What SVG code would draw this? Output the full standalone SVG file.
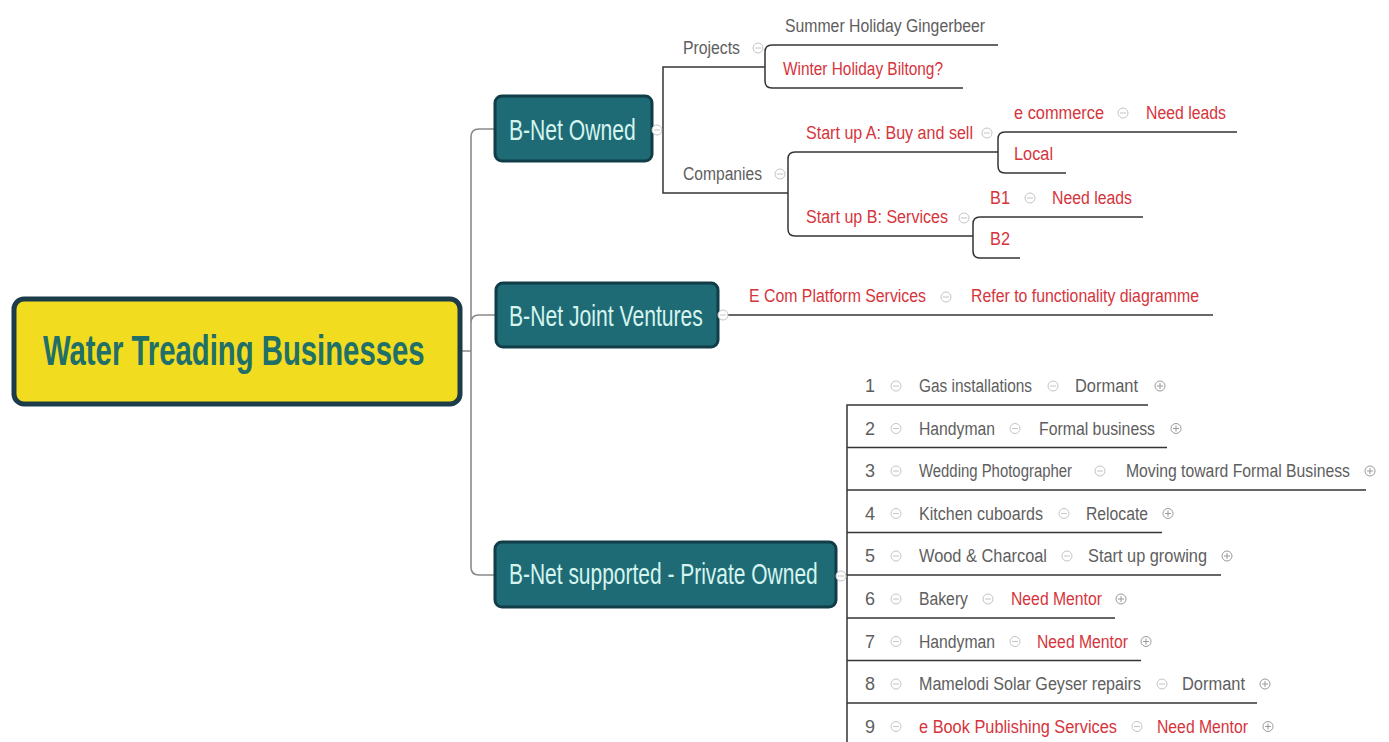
<svg xmlns="http://www.w3.org/2000/svg" xmlns:xlink="http://www.w3.org/1999/xlink" width="1389" height="742" viewBox="0 0 1389 742">
<style>
text{font-family:"Liberation Sans",Arial,sans-serif}
.t{font-size:18px;fill:#5e5e5e}
.r{fill:#d6343c}
.bn{fill:#1e6b76;stroke:#113d48;stroke-width:3}
.bt{font-size:30px;fill:#d6f4ee}
.main{fill:none;stroke:#8a8a8a;stroke-width:1.6}
.sub{fill:none;stroke:#353535;stroke-width:1.5}
.ic circle{fill:#fff;stroke:#c4c4c4;stroke-width:1}
.ic line{stroke:#c4c4c4;stroke-width:1}
.pc circle{fill:#fff;stroke:#9a9a9a;stroke-width:1}
.pc line{stroke:#9a9a9a;stroke-width:1}
</style>
<defs>
<g id="mi" class="ic"><circle r="5"/><line x1="-3" y1="0" x2="3" y2="0"/></g>
<g id="pl" class="pc"><circle r="5"/><line x1="-3" y1="0" x2="3" y2="0"/><line x1="0" y1="-3" x2="0" y2="3"/></g>
</defs>
<rect width="1389" height="742" fill="#fff"/>

<g id="connectors">
<path class="main" d="M461,351 H471 M495,129 H479 Q471,129 471,137 V567 Q471,575 479,575 H495 M471,323 Q471,315 479,315 H496"/>
<path class="sub" d="M652,130 H663 M765,67 H663 V193 H788"/>
<path class="sub" d="M998,45 H772 Q765,45 765,52 V81 Q765,88 772,88 H963"/>
<path class="sub" d="M998,152 H795 Q788,152 788,159 V229 Q788,236 795,236 H973"/>
<path class="sub" d="M1237,132 H1005 Q998,132 998,139 V166 Q998,173 1005,173 H1066"/>
<path class="sub" d="M1143,217 H980 Q973,217 973,224 V251 Q973,258 980,258 H1020"/>
<path class="sub" d="M718,315 H1213"/>
<path class="sub" d="M836,575 H847 M1148,405 H847 V742 M847,447.5 H1167 M847,490 H1366 M847,532.5 H1162 M847,575 H1221 M847,618 H1115 M847,660.5 H1141 M847,703 H1257"/>
</g>

<g id="center">
<rect x="14" y="299" width="446" height="105" rx="10" fill="#f2dc1f" stroke="#1b3c48" stroke-width="5"/>
<text transform="translate(43,365) scale(0.72,1)" font-size="42" font-weight="bold" fill="#206f68" textLength="530" lengthAdjust="spacingAndGlyphs">Water Treading Businesses</text>
</g>

<g id="bnet-owned">
<rect class="bn" x="495" y="96" width="157" height="65" rx="7"/>
<text class="bt" transform="translate(509,140) scale(0.7,1)" textLength="181" lengthAdjust="spacingAndGlyphs">B-Net Owned</text>
<use xlink:href="#mi" x="657" y="130"/>
</g>
<g id="bnet-jv">
<rect class="bn" x="496" y="283" width="222" height="64" rx="7"/>
<text class="bt" transform="translate(509,326) scale(0.7,1)" textLength="277" lengthAdjust="spacingAndGlyphs">B-Net Joint Ventures</text>
<use xlink:href="#mi" x="723" y="315"/>
</g>
<g id="bnet-private">
<rect class="bn" x="495" y="542" width="341" height="65" rx="7"/>
<text class="bt" transform="translate(509,584) scale(0.7,1)" textLength="441" lengthAdjust="spacingAndGlyphs">B-Net supported - Private Owned</text>
<use xlink:href="#mi" x="841" y="576"/>
</g>

<g id="projects">
<text class="t" x="683" y="54" textLength="57" lengthAdjust="spacingAndGlyphs">Projects</text>
<use xlink:href="#mi" x="758" y="48"/>
</g>
<g id="summer"><text class="t" x="785" y="32" textLength="200" lengthAdjust="spacingAndGlyphs">Summer Holiday Gingerbeer</text></g>
<g id="winter"><text class="t r" x="783" y="75" textLength="160" lengthAdjust="spacingAndGlyphs">Winter Holiday Biltong?</text></g>

<g id="companies">
<text class="t" x="683" y="180" textLength="79" lengthAdjust="spacingAndGlyphs">Companies</text>
<use xlink:href="#mi" x="780" y="174"/>
</g>
<g id="startup-a">
<text class="t r" x="806" y="139" textLength="167" lengthAdjust="spacingAndGlyphs">Start up A: Buy and sell</text>
<use xlink:href="#mi" x="987" y="133"/>
</g>
<g id="ecommerce">
<text class="t r" x="1014" y="119" textLength="90" lengthAdjust="spacingAndGlyphs">e commerce</text>
<use xlink:href="#mi" x="1123" y="113"/>
<text class="t r" x="1146" y="119" textLength="80" lengthAdjust="spacingAndGlyphs">Need leads</text>
</g>
<g id="local"><text class="t r" x="1014" y="160" textLength="39" lengthAdjust="spacingAndGlyphs">Local</text></g>
<g id="startup-b">
<text class="t r" x="806" y="223" textLength="142" lengthAdjust="spacingAndGlyphs">Start up B: Services</text>
<use xlink:href="#mi" x="964" y="218"/>
</g>
<g id="b1">
<text class="t r" x="990" y="204" textLength="20" lengthAdjust="spacingAndGlyphs">B1</text>
<use xlink:href="#mi" x="1030" y="198"/>
<text class="t r" x="1052" y="204" textLength="80" lengthAdjust="spacingAndGlyphs">Need leads</text>
</g>
<g id="b2"><text class="t r" x="990" y="245" textLength="20" lengthAdjust="spacingAndGlyphs">B2</text></g>

<g id="ecom">
<text class="t r" x="749" y="302" textLength="177" lengthAdjust="spacingAndGlyphs">E Com Platform Services</text>
<use xlink:href="#mi" x="946" y="297"/>
<text class="t r" x="971" y="302" textLength="228" lengthAdjust="spacingAndGlyphs">Refer to functionality diagramme</text>
</g>

<g id="row1">
<text class="t" x="865" y="392">1</text><use xlink:href="#mi" x="896" y="386"/>
<text class="t" x="919" y="392" textLength="113" lengthAdjust="spacingAndGlyphs">Gas installations</text><use xlink:href="#mi" x="1053" y="386"/>
<text class="t" x="1075" y="392" textLength="63" lengthAdjust="spacingAndGlyphs">Dormant</text><use xlink:href="#pl" x="1160" y="386"/>
</g>
<g id="row2">
<text class="t" x="865" y="434.5">2</text><use xlink:href="#mi" x="896" y="428.5"/>
<text class="t" x="919" y="434.5" textLength="76" lengthAdjust="spacingAndGlyphs">Handyman</text><use xlink:href="#mi" x="1015" y="428.5"/>
<text class="t" x="1039" y="434.5" textLength="116" lengthAdjust="spacingAndGlyphs">Formal business</text><use xlink:href="#pl" x="1176" y="428.5"/>
</g>
<g id="row3">
<text class="t" x="865" y="477">3</text><use xlink:href="#mi" x="896" y="471"/>
<text class="t" x="919" y="477" textLength="153" lengthAdjust="spacingAndGlyphs">Wedding Photographer</text><use xlink:href="#mi" x="1100" y="471"/>
<text class="t" x="1126" y="477" textLength="224" lengthAdjust="spacingAndGlyphs">Moving toward Formal Business</text><use xlink:href="#pl" x="1370" y="471"/>
</g>
<g id="row4">
<text class="t" x="865" y="519.5">4</text><use xlink:href="#mi" x="896" y="513.5"/>
<text class="t" x="919" y="519.5" textLength="124" lengthAdjust="spacingAndGlyphs">Kitchen cuboards</text><use xlink:href="#mi" x="1064" y="513.5"/>
<text class="t" x="1086" y="519.5" textLength="62" lengthAdjust="spacingAndGlyphs">Relocate</text><use xlink:href="#pl" x="1168" y="513.5"/>
</g>
<g id="row5">
<text class="t" x="865" y="562">5</text><use xlink:href="#mi" x="896" y="556"/>
<text class="t" x="919" y="562" textLength="128" lengthAdjust="spacingAndGlyphs">Wood &amp; Charcoal</text><use xlink:href="#mi" x="1067" y="556"/>
<text class="t" x="1088" y="562" textLength="119" lengthAdjust="spacingAndGlyphs">Start up growing</text><use xlink:href="#pl" x="1227" y="556"/>
</g>
<g id="row6">
<text class="t" x="865" y="605">6</text><use xlink:href="#mi" x="896" y="599"/>
<text class="t" x="919" y="605" textLength="49" lengthAdjust="spacingAndGlyphs">Bakery</text><use xlink:href="#mi" x="988" y="599"/>
<text class="t r" x="1011" y="605" textLength="91" lengthAdjust="spacingAndGlyphs">Need Mentor</text><use xlink:href="#pl" x="1121" y="599"/>
</g>
<g id="row7">
<text class="t" x="865" y="647.5">7</text><use xlink:href="#mi" x="896" y="641.5"/>
<text class="t" x="919" y="647.5" textLength="76" lengthAdjust="spacingAndGlyphs">Handyman</text><use xlink:href="#mi" x="1015" y="641.5"/>
<text class="t r" x="1037" y="647.5" textLength="91" lengthAdjust="spacingAndGlyphs">Need Mentor</text><use xlink:href="#pl" x="1146" y="641.5"/>
</g>
<g id="row8">
<text class="t" x="865" y="690">8</text><use xlink:href="#mi" x="896" y="684"/>
<text class="t" x="919" y="690" textLength="222" lengthAdjust="spacingAndGlyphs">Mamelodi Solar Geyser repairs</text><use xlink:href="#mi" x="1162" y="684"/>
<text class="t" x="1182" y="690" textLength="63" lengthAdjust="spacingAndGlyphs">Dormant</text><use xlink:href="#pl" x="1265" y="684"/>
</g>
<g id="row9">
<text class="t" x="865" y="732.5">9</text><use xlink:href="#mi" x="896" y="726.5"/>
<text class="t r" x="919" y="732.5" textLength="198" lengthAdjust="spacingAndGlyphs">e Book Publishing Services</text><use xlink:href="#mi" x="1137" y="726.5"/>
<text class="t r" x="1157" y="732.5" textLength="91" lengthAdjust="spacingAndGlyphs">Need Mentor</text><use xlink:href="#pl" x="1268" y="726.5"/>
</g>
</svg>
